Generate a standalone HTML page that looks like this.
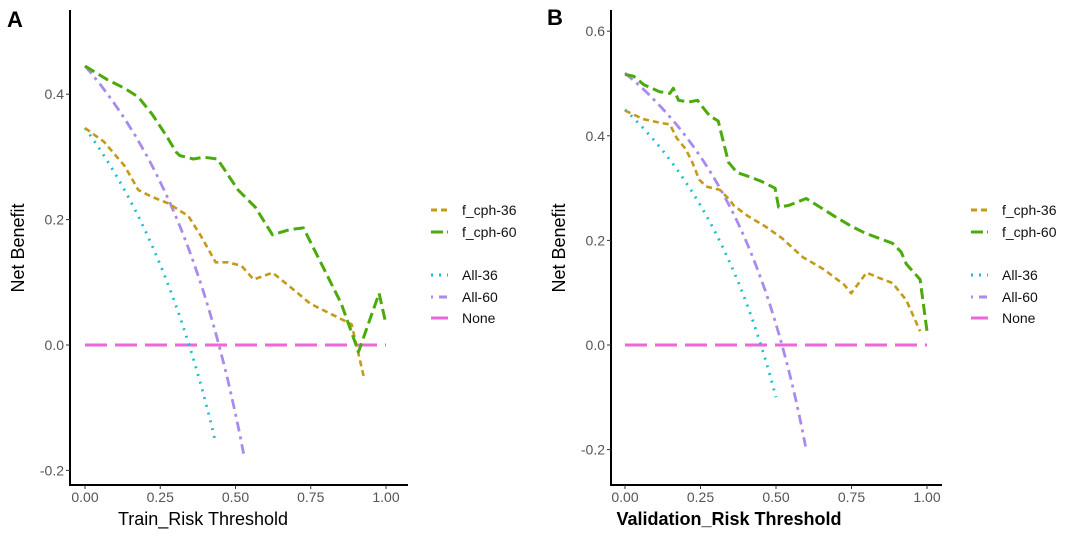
<!DOCTYPE html>
<html><head><meta charset="utf-8"><style>
html,body{margin:0;padding:0;background:#fff;}
svg{display:block;font-family:"Liberation Sans",sans-serif;}
</style></head><body>
<svg id="s" width="1082" height="538" viewBox="0 0 1082 538" xmlns="http://www.w3.org/2000/svg">
<text x="7" y="27" font-size="22" font-weight="bold" fill="#000">A</text>
<text x="547" y="25" font-size="22" font-weight="bold" fill="#000">B</text>
</svg>
<script>
const NS="http://www.w3.org/2000/svg",S=document.getElementById('s');
function el(t,a,txt){const e=document.createElementNS(NS,t);for(const k in a)e.setAttribute(k,a[k]);if(txt!==undefined)e.textContent=txt;S.appendChild(e);return e;}
const C={o:"#C49A1A",g:"#4CAA0C",c:"#1BBDD6",p:"#A98BEE",k:"#EE66D8"};
const ST={o:{w:2.6,d:"6 4"},g:{w:3,d:"11 5"},c:{w:2.8,d:"2 6"},p:{w:2.8,d:"10 5 3 5"},k:{w:3,d:"22 8"}};
function panel(P){
  const X=v=>P.x0+v*(P.x1-P.x0), Y=v=>P.y0-v*P.ppu;
  el('line',{x1:P.ax,y1:P.top,x2:P.ax,y2:P.ay,stroke:'#000','stroke-width':2});
  el('line',{x1:P.ax-1,y1:P.ay,x2:P.right,y2:P.ay,stroke:'#000','stroke-width':2});
  [0,.25,.5,.75,1].forEach(v=>{el('line',{x1:X(v),y1:P.ay,x2:X(v),y2:P.ay+4,stroke:'#333','stroke-width':1});
    el('text',{x:X(v),y:P.ay+17,'font-size':14,'text-anchor':'middle',fill:'#555'},v.toFixed(2));});
  P.yt.forEach(v=>{el('line',{x1:P.ax-4,y1:Y(v),x2:P.ax,y2:Y(v),stroke:'#333','stroke-width':1});
    el('text',{x:P.ax-6,y:Y(v)+5,'font-size':14,'text-anchor':'end',fill:'#555'},v.toFixed(1));});
  el('text',{x:0,y:0,'font-size':18,'text-anchor':'middle',fill:'#000',transform:`translate(${P.ax-46},248) rotate(-90)`},"Net Benefit");
  el('text',{x:P.tx,y:525,'font-size':18,'text-anchor':'middle',fill:'#000','font-weight':P.tb||'normal'},P.title);
  function line(pts,k){el('polyline',{points:pts.map(p=>X(p[0]).toFixed(1)+','+Y(p[1]).toFixed(1)).join(' '),fill:'none',stroke:C[k],'stroke-width':ST[k].w,'stroke-dasharray':ST[k].d,'stroke-linejoin':'round'});}
  function all(p,end){const a=[];for(let t=0;t<=end+1e-9;t+=end/40)a.push([t,p-(1-p)*t/(1-t)]);return a;}
  line([[0,0],[1,0]],'k');
  line(all(P.p36,P.e36),'c');
  line(all(P.p60,P.e60),'p');
  line(P.o,'o');line(P.g,'g');
  const L=[["f_cph-36",'o',0],["f_cph-60",'g',1],["All-36",'c',3],["All-60",'p',4],["None",'k',5]];
  const ly=[210,232,275,297,318];
  L.forEach((l,i)=>{el('line',{x1:P.lx,y1:ly[i],x2:P.lx+17,y2:ly[i],stroke:C[l[1]],'stroke-width':3,'stroke-dasharray':l[1]=='o'?'6 4':l[1]=='c'?'2 6':l[1]=='p'?'2 6 8 2':l[1]=='g'?'12 4 1 0':'none'});
    el('text',{x:P.lx+31,y:ly[i]+5,'font-size':14,fill:'#111'},l[0]);});
}
function cv(arr,ys){return arr.map(a=>[(a[0]-245)/875,(1000-a[1])/ys]);}
panel({x0:85,x1:386,y0:345,ppu:627,ax:70,ay:485,top:10,right:408,yt:[0.4,0.2,0,-0.2],
 title:"Train_Risk Threshold",tx:203,lx:431,p36:0.346,e36:0.434,p60:0.445,e60:0.527,
 g:cv([[245,190],[310,230],[360,255],[400,280],[440,330],[480,390],[510,440],[520,450],[560,460],[590,455],[630,460],[690,550],[740,600],[790,680],[840,665],[880,660],[940,780],[990,880],[1040,1020],[1100,850],[1120,940]],1820),
 o:cv([[245,370],[300,410],[360,480],[400,550],[440,570],[490,590],[520,610],[545,625],[580,680],[625,760],[660,760],[700,770],[735,810],[790,790],[840,830],[900,880],[960,910],[1020,940],[1055,1090]],1820)});
panel({x0:625,x1:927,y0:345,ppu:523,ax:611,ay:485,top:10,right:942,yt:[0.6,0.4,0.2,0,-0.2],
 title:"Validation_Risk Threshold",tx:729,tb:"bold",lx:971,p36:0.45,e36:0.5,p60:0.52,e60:0.598,
 g:cv([[245,215],[270,220],[300,245],[345,265],[375,270],[385,255],[400,290],[430,295],[455,290],[470,310],[490,335],[515,350],[545,470],[570,500],[600,510],[640,525],[680,545],[690,600],[720,595],[770,575],[810,600],[850,625],[900,655],[940,675],[980,690],[1020,705],[1045,730],[1060,765],[1100,810],[1120,960]],1517.5),
 o:cv([[245,320],[300,345],[345,355],[375,360],[395,400],[420,430],[440,470],[460,520],[480,540],[520,550],[545,575],[560,595],[600,625],[650,655],[700,690],[760,745],[820,780],[880,825],[900,850],[945,790],[980,805],[1020,820],[1060,870],[1100,960]],1517.5)});
</script>
</body></html>
